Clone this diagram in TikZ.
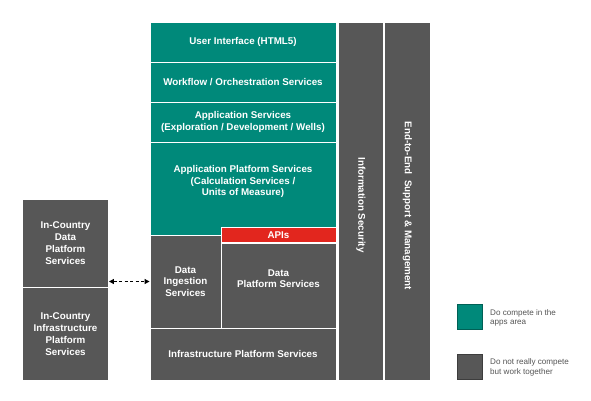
\documentclass[tikz,border=0pt]{standalone}
\usepackage{fontspec}
\setmainfont{Liberation Sans}
\usetikzlibrary{arrows.meta}

\definecolor{appteal}{HTML}{00897A}
\definecolor{infragray}{HTML}{575757}
\definecolor{apired}{HTML}{E2261E}
\definecolor{legendtext}{HTML}{555555}

\tikzset{
  tile/.style={draw=white, line width=0.9pt, text=white, align=center, inner sep=0pt,
    font=\fontsize{9.8}{11.8}\selectfont\bfseries},
  apps/.style={tile, fill=appteal},
  infra/.style={tile, fill=infragray},
  legendbox/.style={draw=#1!70!black, fill=#1, line width=0.6pt, minimum size=25pt, inner sep=0pt},
  legendlabel/.style={anchor=west, align=left, text=legendtext, inner sep=0pt,
    font=\fontsize{8.1}{9.6}\selectfont},
}

\begin{document}
\begin{tikzpicture}[x=1pt, y=-1pt]
    \useasboundingbox[fill=white] (0,0) rectangle (591,400);

    % application layers
    \node[apps, minimum width=186pt, minimum height=40pt] (ui) at (243,42) {User Interface (HTML5)};
    \node[apps, minimum width=186pt, minimum height=40pt] (flow) at (243,82) {Workflow / Orchestration Services};
    \node[apps, minimum width=186pt, minimum height=40pt] (appsvc) at (243,122) {Application Services\\(Exploration / Development / Wells)};
    \node[apps, minimum width=186pt, minimum height=93pt] (appplat) at (243,188.5) {Application Platform Services\\(Calculation Services /\\Units of Measure)\\[4pt]};

    % data and infrastructure layers
    \node[tile, fill=apired, minimum width=115pt, minimum height=15.5pt] (apis) at (278.5,235) {APIs};
    \node[infra, minimum width=71pt, minimum height=93pt] (ingest) at (185.5,281.5) {Data\\Ingestion\\Services};
    \node[infra, minimum width=115pt, minimum height=85pt] (dataplat) at (278.5,285.5) {Data\\Platform Services\\[2pt]};
    \node[infra, minimum width=186pt, minimum height=52pt] (infraplat) at (243,354) {Infrastructure Platform Services};

    % vertical columns
    \node[infra, minimum width=45pt, minimum height=358pt] (infosec) at (361,201) {};
    \node[white, font=\fontsize{9.8}{11.8}\selectfont\bfseries, rotate=-90] (infosectext) at (361,205) {Information Security};
    \node[infra, minimum width=46pt, minimum height=358pt] (support) at (407.5,201) {};
    \node[white, font=\fontsize{9.8}{11.8}\selectfont\bfseries, rotate=-90] (supporttext) at (407.5,206) {End-to-End\ \ Support \& Management};

    % in-country services
    \node[infra, minimum width=86pt, minimum height=88pt] (icdata) at (65.5,243) {In-Country\\Data\\Platform\\Services};
    \node[infra, minimum width=86pt, minimum height=93pt] (icinfra) at (65.5,334) {In-Country\\Infrastructure\\Platform\\Services};

    \draw[line width=1.1pt, dash pattern=on 3pt off 2.5pt, {Triangle[length=5pt,width=5pt]}-{Triangle[length=5pt,width=5pt]}]
        (icdata.east |- ingest.west) -- (ingest.west);

    % legend
    \node[legendbox=appteal] (keyapps) at (470,317) {};
    \node[legendlabel] (keyappstext) at (490,318) {Do compete in the\\apps area};
    \node[legendbox=infragray] (keyinfra) at (470,367) {};
    \node[legendlabel] (keyinfratext) at (490,367.5) {Do not really compete\\but work together};
\end{tikzpicture}
\end{document}
